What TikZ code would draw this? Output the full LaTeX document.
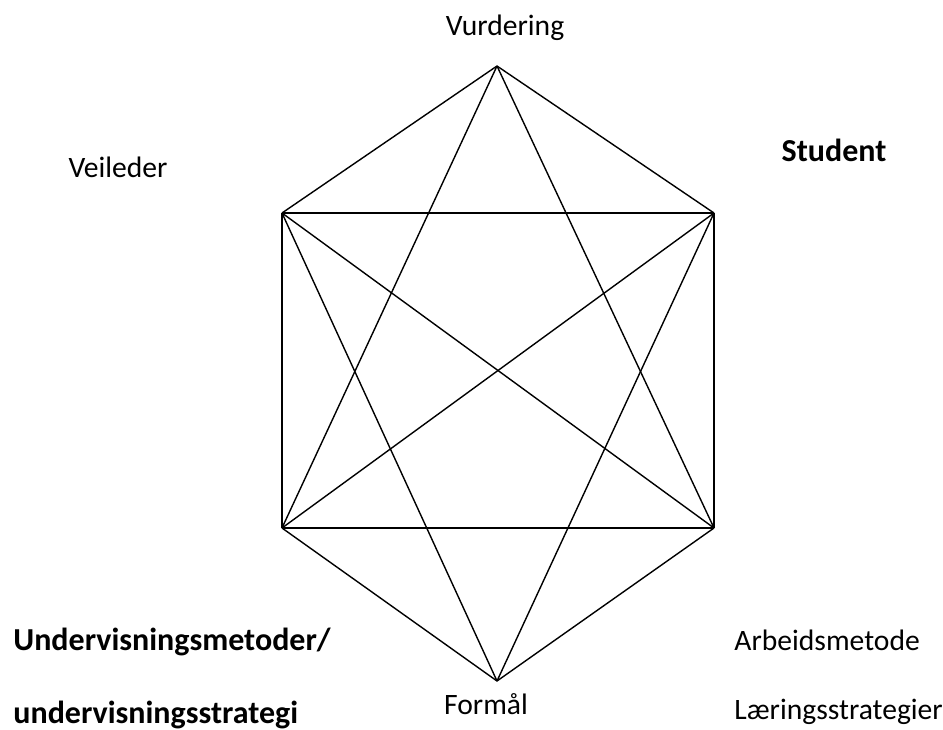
\documentclass[tikz,border=0pt]{standalone}
\usepackage{fontspec}
\setmainfont{Carlito}

\begin{document}
\begin{tikzpicture}[
  edge/.style={line width=0.7pt, draw=black},
  lbl/.style={font=\fontsize{14.8}{17}\selectfont, anchor=base, inner sep=0pt},
  boldlbl/.style={lbl, font=\fontsize{16}{19}\selectfont\bfseries},
  x=0.5pt, y=-0.5pt  % pixel scale (943x729), y pre-flipped
]
\useasboundingbox (0,0) rectangle (943,729);

% ---------- hexagon corners ----------
\coordinate (top) at (497,66);
\coordinate (ul)  at (282,213);
\coordinate (ur)  at (714,213);
\coordinate (ll)  at (282,528);
\coordinate (lr)  at (714,528);
\coordinate (bot) at (497,681);

% ---------- all connections (no top--bot) ----------
\foreach \a/\b in {top/ul, top/ur, top/ll, top/lr,
                   ul/ur, ul/ll, ul/lr, ul/bot,
                   ur/ll, ur/lr, ur/bot,
                   ll/lr, ll/bot, lr/bot}
  \draw[edge] (\a) -- (\b);

% ---------- labels ----------
\node[lbl] (vurdering) at (505,35) {Vurdering};
\node[lbl] (veileder) at (118,177) {Veileder};
\node[boldlbl] (student) at (834,161) {Student};
\node[boldlbl, anchor=base west] (undervisning) at (13,650) {Undervisningsmetoder/};
\node[boldlbl, anchor=base west] (strategi) at (13,723) {undervisningsstrategi};
\node[lbl] (formaal) at (486,714) {Formål};
\node[lbl, anchor=base west] (arbeid) at (734,650) {Arbeidsmetode};
\node[lbl, anchor=base west] (laering) at (734,719) {Læringsstrategier};

\end{tikzpicture}
\end{document}
